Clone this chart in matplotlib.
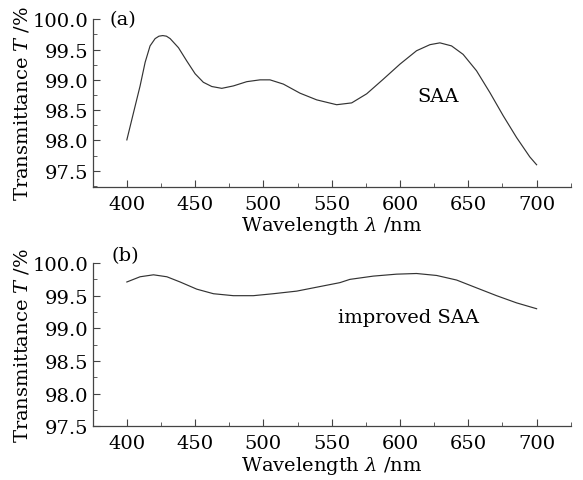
import numpy as np
import matplotlib.pyplot as plt
from matplotlib.ticker import MultipleLocator

plt.rcParams['font.family'] = 'DejaVu Serif'
plt.rcParams['mathtext.fontset'] = 'dejavuserif'

# SAA curve (a)
wl_a = [400, 405, 409.7, 413.4, 417, 420.7, 423.5, 426.3, 429, 431.7, 437.8, 443.9,
        450, 456, 462.2, 469.5, 478, 487.8, 497.5, 504.8, 514.6, 526.8, 539, 553.6,
        564.6, 575.6, 587.7, 600, 612.1, 621.9, 629.2, 637.7, 646.2, 656, 665.8,
        675.5, 685.3, 695, 700]
t_a = [98.01, 98.47, 98.90, 99.29, 99.56, 99.68, 99.72, 99.73, 99.72, 99.68, 99.53,
       99.31, 99.10, 98.96, 98.89, 98.86, 98.90, 98.97, 99.00, 99.00, 98.93, 98.78,
       98.67, 98.59, 98.62, 98.77, 99.01, 99.26, 99.48, 99.58, 99.61, 99.56, 99.42,
       99.15, 98.79, 98.41, 98.05, 97.73, 97.60]

# improved SAA curve (b)
wl_b = [400, 409.7, 419.5, 429.3, 439, 451.2, 463.4, 478, 492.6, 507.2, 524.4,
        541.4, 556, 563.3, 580.4, 597.5, 612.1, 626.8, 641.4, 656, 670.7, 685.3, 700]
t_b = [99.71, 99.79, 99.82, 99.79, 99.71, 99.60, 99.53, 99.50, 99.50, 99.53, 99.57,
       99.64, 99.70, 99.75, 99.80, 99.83, 99.84, 99.81, 99.74, 99.62, 99.50, 99.39,
       99.30]

fig = plt.figure(figsize=(5.83, 4.81), dpi=100)
ax1 = fig.add_axes([0.159, 0.610, 0.820, 0.348])
ax2 = fig.add_axes([0.159, 0.112, 0.820, 0.339])

line_color = '#333333'
ax1.plot(wl_a, t_a, color=line_color, lw=0.85)
ax2.plot(wl_b, t_b, color=line_color, lw=0.85)

ax1.set_ylim(97.24, 100.0)
ax2.set_ylim(97.5, 100.0)

fs = 14
for ax in (ax1, ax2):
    ax.set_xlim(375, 725)
    ax.set_yticks([97.5, 98.0, 98.5, 99.0, 99.5, 100.0])
    ax.yaxis.set_major_formatter(plt.FormatStrFormatter('%.1f'))
    ax.set_xticks([400, 450, 500, 550, 600, 650, 700])
    ax.xaxis.set_minor_locator(MultipleLocator(25))
    ax.yaxis.set_minor_locator(MultipleLocator(0.25))
    for s in ('top', 'right'):
        ax.spines[s].set_visible(False)
    for s in ('left', 'bottom'):
        ax.spines[s].set_color('#444444')
        ax.spines[s].set_linewidth(0.9)
    ax.tick_params(which='both', direction='in', labelsize=fs, colors='#444444',
                   labelcolor='black')
    ax.tick_params(axis='y', pad=3)
    ax.tick_params(axis='x', pad=6)
    ax.tick_params(which='major', length=5)
    ax.tick_params(which='minor', length=3)
    ax.set_ylabel(r'Transmittance $T$ /%', fontsize=fs, labelpad=1)
    ax.set_xlabel(r'Wavelength $\lambda$ /nm', fontsize=fs, labelpad=1)

ax1.text(387.5, 100.0, '(a)', fontsize=fs, va='center', ha='left')
ax2.text(389, 100.12, '(b)', fontsize=fs, va='center', ha='left')
ax1.text(628, 98.74, 'SAA', fontsize=fs, va='center', ha='center')
ax2.text(606, 99.17, 'improved SAA', fontsize=fs, va='center', ha='center')

fig.savefig('out.png', dpi=100)
